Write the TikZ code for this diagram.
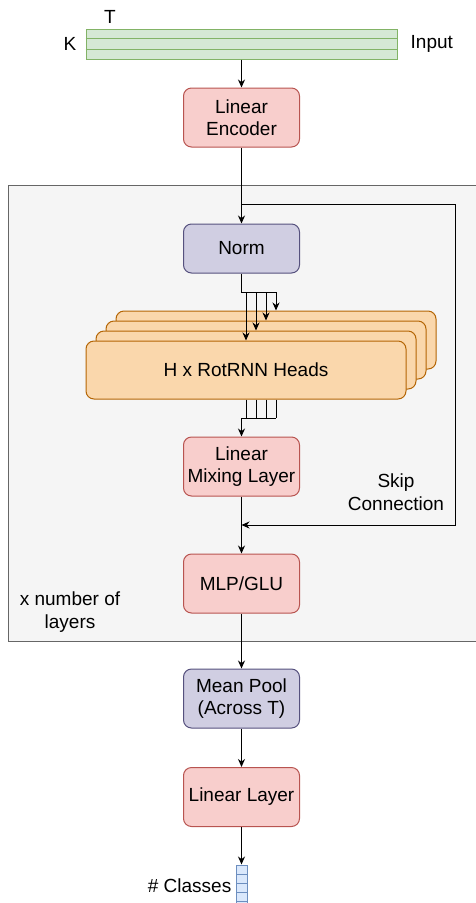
\documentclass[tikz,border=0pt]{standalone}
\usepackage{fontspec}
\setmainfont{Liberation Sans}
\usetikzlibrary{arrows.meta,positioning}

\definecolor{greenfill}{HTML}{D5E8D4}
\definecolor{greenline}{HTML}{82B366}
\definecolor{redfill}{HTML}{F8CECC}
\definecolor{redline}{HTML}{B85450}
\definecolor{purplefill}{HTML}{D0CEE2}
\definecolor{purpleline}{HTML}{56517E}
\definecolor{orangefill}{HTML}{FAD7AC}
\definecolor{orangeline}{HTML}{B46504}
\definecolor{bluefill}{HTML}{DAE8FC}
\definecolor{blueline}{HTML}{6C8EBF}
\definecolor{greyfill}{HTML}{F5F5F5}
\definecolor{greyline}{HTML}{666666}

\tikzset{
  lbl/.style={font=\fontsize{19}{22.5}\selectfont, align=center, inner sep=0pt},
  box/.style={lbl, draw, line width=1pt, rounded corners=8pt, minimum width=116pt, minimum height=59pt},
  redbox/.style={box, fill=redfill, draw=redline},
  purplebox/.style={box, fill=purplefill, draw=purpleline},
  headbox/.style={box, fill=orangefill, draw=orangeline, minimum width=320pt, minimum height=58pt},
  cell/.style={draw=blueline, fill=bluefill, line width=1pt, minimum width=11pt, minimum height=9pt, inner sep=0pt},
  arr/.style={-{Stealth[length=8pt,width=7pt]}, line width=1pt},
  wire/.style={line width=1pt},
}

\begin{document}
\begin{tikzpicture}[x=1pt, y=-1pt]
\useasboundingbox (0,0) rectangle (476,903);

% Layer block
\draw[fill=greyfill, draw=greyline, line width=1pt] (8,185) rectangle (490,641);
\node[lbl] (nlayers) at (70,612) {x number of\\layers};

% Input
\node[draw=greenline, fill=greenfill, line width=1pt, minimum width=311pt, minimum height=30pt, inner sep=0pt] (input) at (241.5,44) {};
\draw[greenline, line width=1pt] ([yshift=-10pt]input.north west) -- ([yshift=-10pt]input.north east);
\draw[greenline, line width=1pt] ([yshift=10pt]input.south west) -- ([yshift=10pt]input.south east);
\node[lbl] (tlab) at (110,17) {T};
\node[lbl, left=9pt of input] (klab) {K};
\node[lbl, right=13pt of input] (inlab) {Input};

% Boxes
\node[redbox] (enc) at (241.5,117.5) {Linear\\Encoder};
\node[purplebox, minimum height=49pt] (norm) at (241.5,248.5) {Norm};
\foreach \i in {3,2,1}
  \node[headbox] (head\i) at ({246+10*\i},{370-10*\i}) {};
\node[headbox] (head0) at (246,370) {H x RotRNN Heads};
\node[redbox] (mix) at (241.5,466.5) {Linear\\Mixing Layer};
\node[redbox] (mlp) at (241.5,583.5) {MLP/GLU};
\node[purplebox] (pool) at (241.5,698.5) {Mean Pool\\(Across T)};
\node[redbox] (lin) at (241.5,797) {Linear Layer};

% Output
\foreach \j in {0,...,4}
  \node[cell] (cls\j) at (241.5,{869.5+9*\j}) {};
\node[lbl, left=4pt of cls2.west, anchor=east, yshift=2pt] (clslab) {\# Classes};

% Arrows
\draw[arr] (input) -- (enc);
\draw[arr] (enc) -- (norm);
\coordinate (skipA) at (241.5,204);
\coordinate (skipB) at (241.5,525);
\draw[arr, line width=1pt] (skipA) -- (455,204) -- (455,525) -- (skipB);
\node[lbl] (skiplab) at (396,492) {Skip\\Connection};

% Heads in and out
\coordinate (split) at (241.5,292);
\coordinate (merge) at (241.5,418);
\draw[wire] (norm) -- (split) -- (split -| head3.north);
\draw[wire] (merge) -- (merge -| head3.north);
\foreach \i in {0,...,3} {
  \draw[arr] (head\i.north |- split) -- (head\i.north);
  \draw[wire] (head\i.north |- head0.south) -- (head\i.north |- merge);
}
\draw[arr] (merge) -- (mix);
\draw[arr] (mix) -- (mlp);
\draw[arr] (mlp) -- (pool);
\draw[arr] (pool) -- (lin);
\draw[arr] (lin) -- (cls0);

\end{tikzpicture}
\end{document}
